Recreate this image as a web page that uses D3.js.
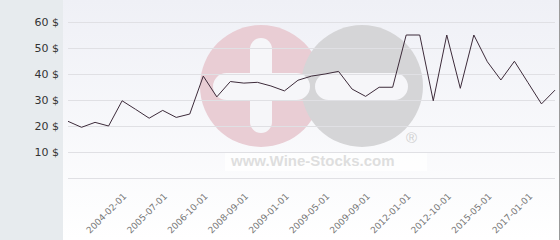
<!DOCTYPE html>
<html>
<head>
<meta charset="utf-8">
<title>Wine price</title>
<script src="https://d3js.org/d3.v7.min.js"></script>
<style>
  body { margin: 0; font-family: "DejaVu Sans", sans-serif; }
  .grid line { stroke: #e0e0e4; stroke-width: 1; }
  .price { fill: none; stroke: #3d2b3a; stroke-width: 1; }
</style>
</head>
<body>
<script>
// price per point, in $
var prices = [21.8, 19.5, 21.4, 20.0, 29.7, 26.4, 23.0, 26.0, 23.3, 24.6,
              39.2, 31.2, 37.1, 36.5, 36.8, 35.4, 33.5, 37.6, 39.2, 40.0,
              41.0, 34.2, 31.4, 34.9, 34.9, 55.0, 55.0, 29.7, 55.0, 34.5,
              55.0, 44.7, 37.7, 44.9, 36.7, 28.5, 33.8];
// shown labels, one every third point starting at point 4
var tickLabels = ["2004-02-01", "2005-07-01", "2006-10-01", "2008-09-01", "2009-01-01",
                  "2009-05-01", "2009-09-01", "2012-01-01", "2012-10-01", "2015-05-01", "2017-01-01"];
var tickFirst = 4, tickStep = 3;
var yTicks = [10, 20, 30, 40, 50, 60];

var W = 560, H = 240;
var svg = d3.select("body").append("svg").attr("width", W).attr("height", H);

var defs = svg.append("defs");
var grad = defs.append("linearGradient").attr("id", "bg")
  .attr("x1", 0).attr("y1", 0).attr("x2", 0).attr("y2", 1);
grad.append("stop").attr("offset", "0%").attr("stop-color", "#eff0f6");
grad.append("stop").attr("offset", "100%").attr("stop-color", "#ffffff");

// left panel and plot background
svg.append("rect").attr("width", W).attr("height", H).attr("fill", "#e7ebee");
svg.append("rect").attr("x", 63).attr("y", 0).attr("width", 496).attr("height", H).attr("fill", "url(#bg)");
svg.append("line").attr("x1", 559.5).attr("x2", 559.5).attr("y1", 0).attr("y2", H)
  .attr("stroke", "#9a9a9a");

var x = d3.scalePoint().domain(d3.range(prices.length)).range([68, 555]);
var y = d3.scaleLinear().domain([0, 60]).range([178, 22]);

// watermark
var wm = svg.append("g");
wm.append("circle").attr("cx", 261).attr("cy", 86).attr("r", 61).attr("fill", "#e9cdd4");
wm.append("circle").attr("cx", 362).attr("cy", 86).attr("r", 61).attr("fill", "#d5d5d7");
wm.append("rect").attr("x", 250).attr("y", 38).attr("width", 22).attr("height", 95).attr("rx", 11)
  .attr("fill", "#f6f6f9");
wm.append("rect").attr("x", 213).attr("y", 73).attr("width", 97).attr("height", 27).attr("rx", 13.5)
  .attr("fill", "#f6f6f9");
wm.append("rect").attr("x", 315).attr("y", 73).attr("width", 93).attr("height", 27).attr("rx", 13.5)
  .attr("fill", "#f6f6f9");
wm.append("rect").attr("x", 225).attr("y", 152).attr("width", 202).attr("height", 19)
  .attr("fill", "#ffffff").attr("opacity", 0.7);
wm.append("text").attr("x", 231).attr("y", 166)
  .style("font-family", "Liberation Sans, Arial, sans-serif").style("font-weight", "bold")
  .style("font-size", "15px").attr("fill", "#dedede").text("www.Wine-Stocks.com");
wm.append("text").attr("x", 406).attr("y", 143)
  .style("font-family", "Liberation Sans, Arial, sans-serif")
  .style("font-size", "15px").attr("fill", "#d0d0d0").text("®");

// grid
svg.append("g").attr("class", "grid")
  .selectAll("line").data([0].concat(yTicks)).enter().append("line")
  .attr("x1", 68).attr("x2", 555)
  .attr("y1", function(d) { return Math.round(y(d)) + 0.5; })
  .attr("y2", function(d) { return Math.round(y(d)) + 0.5; });

// y labels
svg.append("g").selectAll("text").data(yTicks).enter().append("text")
  .attr("x", 59).attr("y", function(d) { return y(d) + 4; })
  .attr("text-anchor", "end").style("font-size", "11px").attr("fill", "#333")
  .text(function(d) { return d + " $"; });

// x labels
svg.append("g").selectAll("text").data(tickLabels).enter().append("text")
  .attr("transform", function(d, i) {
    return "translate(" + (x(tickFirst + i * tickStep) + 5) + ",197) rotate(-45)";
  })
  .attr("text-anchor", "end").style("font-size", "9px").attr("fill", "#777")
  .text(function(d) { return d; });

// price line
var line = d3.line()
  .x(function(d, i) { return x(i); })
  .y(function(d) { return y(d); });
svg.append("path").datum(prices).attr("class", "price").attr("d", line);
</script>
</body>
</html>
